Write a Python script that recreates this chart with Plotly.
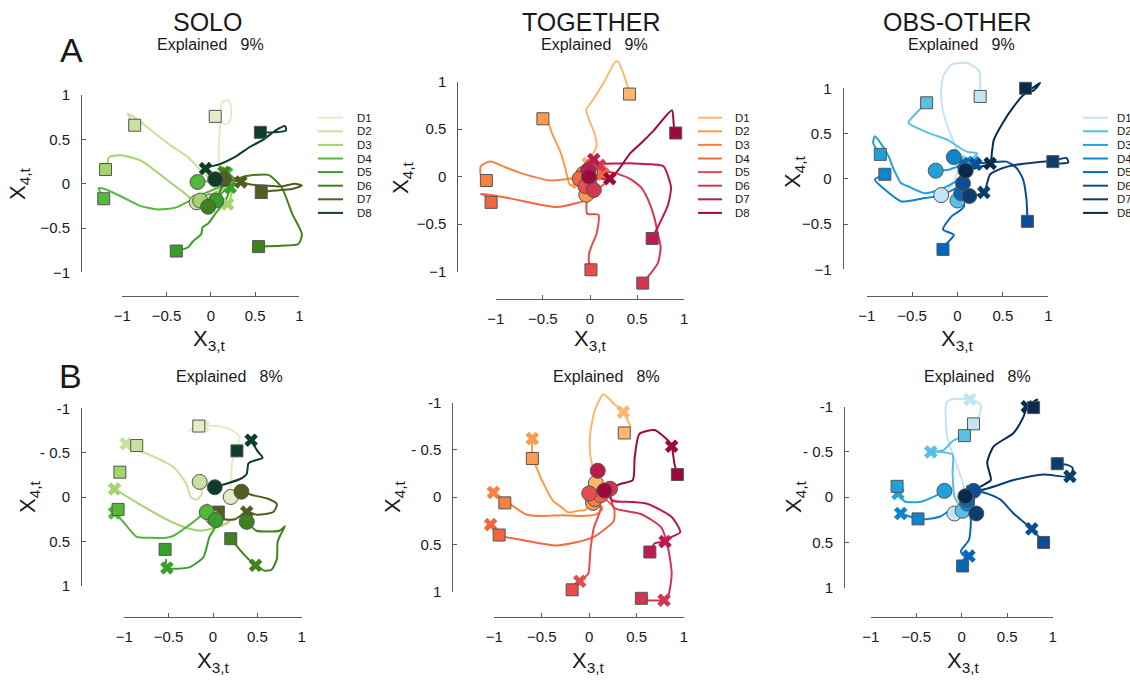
import plotly.graph_objects as go

W, H = 1130, 682
FONT = "Liberation Sans, Arial, sans-serif"

DIRS = ["D1", "D2", "D3", "D4", "D5", "D6", "D7", "D8"]
GREENS = ["#e3edc5", "#c8e1a0", "#a5d36e", "#55b83c", "#37a02a", "#3f821d", "#525d20", "#0e3d29"]
REDS = ["#fdb76b", "#fd9b4c", "#f9803f", "#f3663f", "#e64d4b", "#d43651", "#bd1a4d", "#9c0a3d"]
BLUES = ["#c2e4f3", "#5bbee3", "#1fa2dc", "#0c85cd", "#0866b7", "#0b4d96", "#0b3d6f", "#082b4b"]

TITLES = ["SOLO", "TOGETHER", "OBS-OTHER"]
EXPLAINED = ["9%", "8%"]
TICKS = [-1, -0.5, 0, 0.5, 1]
TICKTEXT_X = ["\u22121", "\u22120.5", "0", "0.5", "1"]
TICKTEXT_YA = ["\u22121", "\u22120.5", "0", "0.5", "1"]
TICKTEXT_YB = ["-1", "- 0.5", "0", "0.5", "1"]

# ---------------- Row A : SOLO ----------------
solo_a_paths = [
    [(0.0, -0.2), (0.04, -0.08), (0.07, 0.05), (0.09, 0.2), (0.09, 0.4), (0.1, 0.6), (0.11, 0.8), (0.13, 0.92), (0.2, 0.94), (0.23, 0.85), (0.22, 0.72), (0.18, 0.67), (0.1, 0.7), (0.05, 0.76)],
    [(-0.16, -0.21), (-0.02, -0.1), (0.1, 0.02), (0.12, 0.08), (0.05, 0.04), (-0.07, 0.11), (-0.26, 0.3), (-0.45, 0.43), (-0.67, 0.6), (-0.85, 0.74), (-0.94, 0.79), (-0.9, 0.72), (-0.86, 0.66)],
    [(-0.12, -0.19), (0.05, -0.22), (0.19, -0.23), (0.23, -0.1), (0.15, -0.05), (0.0, -0.13), (-0.18, -0.19), (-0.33, -0.08), (-0.48, 0.03), (-0.79, 0.26), (-1.02, 0.32), (-1.15, 0.3), (-1.17, 0.22), (-1.19, 0.16)],
    [(-0.15, 0.02), (0.05, 0.04), (0.18, 0.12), (0.2, 0.0), (0.1, -0.04), (-0.1, -0.12), (-0.4, -0.27), (-0.6, -0.29), (-0.8, -0.25), (-1.0, -0.15), (-1.2, -0.06), (-1.27, -0.05), (-1.23, -0.12), (-1.21, -0.17)],
    [(0.06, -0.19), (0.15, -0.08), (0.22, -0.04), (0.16, -0.2), (0.05, -0.34), (-0.03, -0.45), (-0.09, -0.49), (-0.11, -0.57), (-0.2, -0.65), (-0.26, -0.72), (-0.39, -0.76)],
    [(-0.03, -0.26), (0.1, -0.1), (0.15, 0.05), (0.15, 0.13), (0.27, 0.06), (0.42, 0.09), (0.65, 0.1), (0.8, -0.04), (0.92, -0.34), (1.03, -0.57), (0.99, -0.68), (0.8, -0.7), (0.54, -0.71)],
    [(0.15, 0.05), (0.25, 0.04), (0.34, 0.02), (0.45, -0.01), (0.61, -0.02), (0.8, -0.03), (0.95, 0.0), (1.03, -0.02), (0.92, -0.06), (0.69, -0.08), (0.57, -0.1)],
    [(0.05, 0.05), (-0.06, 0.17), (0.1, 0.22), (0.27, 0.3), (0.45, 0.42), (0.6, 0.5), (0.73, 0.6), (0.84, 0.65), (0.85, 0.6), (0.72, 0.58), (0.56, 0.58)],
]
solo_a_start = [(0.0, -0.2), (-0.16, -0.21), (-0.12, -0.19), (-0.15, 0.02), (0.06, -0.19), (-0.03, -0.26), (0.15, 0.05), (0.05, 0.05)]
solo_a_cross = [(0.07, 0.05), (0.12, 0.08), (0.19, -0.23), (0.18, 0.12), (0.22, -0.04), (0.15, 0.13), (0.34, 0.02), (-0.06, 0.17)]
solo_a_end = [(0.05, 0.76), (-0.86, 0.66), (-1.19, 0.16), (-1.21, -0.17), (-0.39, -0.76), (0.54, -0.71), (0.57, -0.1), (0.56, 0.58)]

# ---------------- Row A : TOGETHER ----------------
tog_a_paths = [
    [(0.0, 0.04), (-0.02, 0.14), (0.07, 0.32), (0.05, 0.45), (-0.04, 0.7), (0.04, 0.82), (0.15, 1.0), (0.27, 1.21), (0.3, 1.21), (0.39, 0.98), (0.42, 0.87)],
    [(-0.04, -0.19), (-0.13, -0.06), (-0.21, -0.09), (-0.26, 0.08), (-0.31, 0.25), (-0.4, 0.45), (-0.45, 0.58), (-0.5, 0.61)],
    [(-0.07, 0.03), (0.1, 0.07), (0.15, 0.04), (0.0, 0.02), (-0.2, -0.02), (-0.42, -0.04), (-0.6, 0.0), (-0.74, 0.04), (-0.9, 0.1), (-1.06, 0.16), (-1.16, 0.11), (-1.16, 0.02), (-1.1, -0.04)],
    [(-0.11, -0.02), (0.05, 0.02), (0.14, 0.03), (0.18, -0.05), (0.11, -0.11), (0.05, -0.21), (-0.15, -0.28), (-0.35, -0.32), (-0.55, -0.29), (-0.74, -0.25), (-1.0, -0.2), (-1.16, -0.18), (-1.09, -0.21), (-1.05, -0.27)],
    [(-0.05, -0.1), (0.02, 0.12), (0.0, -0.05), (-0.03, -0.2), (-0.03, -0.39), (0.09, -0.4), (0.07, -0.6), (0.02, -0.72), (-0.01, -0.81), (-0.01, -0.91), (0.01, -0.98)],
    [(0.04, -0.14), (0.1, 0.12), (0.05, 0.07), (0.25, 0.04), (0.42, -0.02), (0.54, -0.11), (0.62, -0.25), (0.68, -0.42), (0.72, -0.6), (0.75, -0.74), (0.72, -0.91), (0.56, -1.12)],
    [(-0.02, 0.07), (0.04, 0.18), (0.07, 0.14), (0.3, 0.14), (0.47, 0.14), (0.65, 0.13), (0.78, 0.11), (0.86, -0.11), (0.84, -0.25), (0.82, -0.32), (0.72, -0.53), (0.66, -0.65)],
    [(-0.01, 0.0), (0.1, -0.02), (0.21, -0.02), (0.3, 0.07), (0.43, 0.25), (0.55, 0.36), (0.68, 0.49), (0.87, 0.7), (0.89, 0.54), (0.91, 0.46)],
]
tog_a_start = [(0.0, 0.04), (-0.04, -0.19), (-0.07, 0.03), (-0.11, -0.02), (-0.05, -0.1), (0.04, -0.14), (-0.02, 0.07), (-0.01, 0.0)]
tog_a_cross = [(-0.02, 0.14), (-0.13, -0.06), (0.1, 0.07), (0.14, 0.03), (0.02, 0.12), (0.1, 0.12), (0.04, 0.18), (0.21, -0.02)]
tog_a_end = [(0.42, 0.87), (-0.5, 0.61), (-1.1, -0.04), (-1.05, -0.27), (0.01, -0.98), (0.56, -1.12), (0.66, -0.65), (0.91, 0.46)]

# ---------------- Row A : OBS-OTHER ----------------
obs_a_paths = [
    [(-0.18, -0.18), (-0.05, -0.05), (0.03, 0.2), (0.0, 0.3), (-0.06, 0.45), (-0.11, 0.58), (-0.17, 0.8), (-0.18, 0.98), (-0.15, 1.15), (-0.07, 1.26), (0.11, 1.28), (0.24, 1.19), (0.25, 1.05), (0.25, 0.91)],
    [(0.0, -0.24), (0.03, 0.0), (0.1, 0.18), (0.22, 0.28), (0.1, 0.3), (-0.11, 0.43), (-0.3, 0.5), (-0.54, 0.62), (-0.45, 0.73), (-0.34, 0.84)],
    [(-0.24, 0.09), (-0.1, 0.1), (0.07, 0.15), (0.02, 0.0), (-0.15, -0.1), (-0.36, -0.16), (-0.55, -0.08), (-0.62, -0.05), (-0.7, 0.1), (-0.76, 0.25), (-0.85, 0.4), (-0.91, 0.47), (-0.93, 0.4), (-0.85, 0.27)],
    [(-0.04, 0.24), (0.1, 0.2), (0.18, 0.18), (0.1, 0.0), (0.04, -0.07), (-0.18, -0.18), (-0.4, -0.22), (-0.62, -0.25), (-0.8, -0.12), (-0.91, -0.01), (-0.8, 0.05)],
    [(0.04, -0.16), (0.06, 0.17), (0.05, -0.1), (0.07, -0.31), (-0.07, -0.42), (-0.16, -0.56), (-0.04, -0.62), (-0.14, -0.74), (-0.16, -0.78)],
    [(0.06, -0.05), (0.2, 0.16), (0.35, 0.18), (0.54, 0.19), (0.65, 0.12), (0.72, 0.0), (0.76, -0.23), (0.77, -0.47)],
    [(0.13, -0.19), (0.29, -0.15), (0.36, 0.05), (0.5, 0.12), (0.62, 0.15), (0.85, 0.18), (1.05, 0.2), (1.2, 0.23), (1.22, 0.18), (1.12, 0.17), (1.05, 0.19)],
    [(0.09, 0.09), (0.2, 0.12), (0.36, 0.17), (0.38, 0.3), (0.4, 0.43), (0.5, 0.62), (0.62, 0.8), (0.72, 0.92), (0.91, 1.06), (0.83, 0.97), (0.75, 1.0)],
]
obs_a_start = [(-0.18, -0.18), (0.0, -0.24), (-0.24, 0.09), (-0.04, 0.24), (0.04, -0.16), (0.06, -0.05), (0.13, -0.19), (0.09, 0.09)]
obs_a_cross = [(0.03, 0.2), (0.1, 0.18), (0.07, 0.15), (0.18, 0.18), (0.06, 0.17), (0.2, 0.16), (0.29, -0.15), (0.36, 0.17)]
obs_a_end = [(0.25, 0.91), (-0.34, 0.84), (-0.85, 0.27), (-0.8, 0.05), (-0.16, -0.78), (0.77, -0.47), (1.05, 0.19), (0.75, 1.0)]

# ---------------- Row B : SOLO (y axis reversed) ----------------
solo_b_paths = [
    [(0.2, 0.0), (0.2, -0.2), (0.22, -0.4), (0.28, -0.6), (0.3, -0.68), (0.2, -0.76), (0.05, -0.8), (-0.1, -0.8), (-0.2, -0.78), (-0.28, -0.74)],
    [(-0.15, -0.17), (-0.12, -0.05), (-0.18, 0.03), (-0.25, 0.0), (-0.3, -0.15), (-0.45, -0.34), (-0.68, -0.46), (-0.85, -0.53), (-0.98, -0.6)],
    [(0.0, 0.23), (0.15, 0.25), (0.19, 0.27), (0.08, 0.33), (-0.15, 0.38), (-0.35, 0.33), (-0.53, 0.25), (-0.83, 0.08), (-1.11, -0.09)],
    [(-0.07, 0.17), (-0.06, 0.08), (-0.15, 0.22), (-0.3, 0.34), (-0.45, 0.44), (-0.53, 0.46), (-0.7, 0.46), (-0.86, 0.45), (-1.02, 0.27), (-1.11, 0.18)],
    [(0.03, 0.26), (0.02, 0.35), (-0.04, 0.45), (-0.08, 0.6), (-0.11, 0.68), (-0.26, 0.79), (-0.52, 0.8), (-0.53, 0.7)],
    [(0.38, 0.28), (0.49, 0.38), (0.62, 0.39), (0.75, 0.38), (0.81, 0.33), (0.79, 0.37), (0.73, 0.5), (0.72, 0.7), (0.66, 0.82), (0.58, 0.83), (0.48, 0.77), (0.35, 0.65), (0.2, 0.47)],
    [(0.32, -0.06), (0.45, -0.02), (0.62, 0.02), (0.72, 0.08), (0.68, 0.17), (0.5, 0.2), (0.38, 0.17), (0.25, 0.25), (0.12, 0.25), (0.06, 0.17)],
    [(0.02, -0.11), (0.15, -0.15), (0.3, -0.2), (0.38, -0.26), (0.4, -0.38), (0.5, -0.42), (0.56, -0.44), (0.5, -0.52), (0.43, -0.64)],
]
solo_b_start = [(0.2, 0.0), (-0.15, -0.17), (0.0, 0.23), (-0.07, 0.17), (0.03, 0.26), (0.38, 0.28), (0.32, -0.06), (0.02, -0.11)]
solo_b_cross = [(-0.11, -0.8), (-0.98, -0.6), (-1.11, -0.09), (-1.11, 0.18), (-0.52, 0.8), (0.48, 0.77), (0.38, 0.17), (0.43, -0.64)]
solo_b_end = [(-0.16, -0.8), (-0.86, -0.58), (-1.05, -0.28), (-1.07, 0.14), (-0.54, 0.59), (0.2, 0.47), (0.06, 0.17), (0.27, -0.52)]

# ---------------- Row B : TOGETHER ----------------
tog_b_paths = [
    [(0.07, -0.15), (0.04, -0.3), (0.01, -0.45), (0.01, -0.67), (0.06, -0.92), (0.15, -1.09), (0.26, -0.99), (0.36, -0.9), (0.44, -0.74)],
    [(0.04, 0.06), (-0.05, 0.14), (-0.1, 0.14), (-0.22, 0.16), (-0.3, 0.1), (-0.38, 0.04), (-0.47, -0.12), (-0.53, -0.25), (-0.6, -0.46), (-0.6, -0.62)],
    [(0.06, 0.02), (0.14, 0.12), (0.08, 0.18), (-0.1, 0.2), (-0.28, 0.19), (-0.5, 0.2), (-0.67, 0.18), (-0.88, 0.04), (-1.01, -0.05)],
    [(0.12, -0.02), (0.26, 0.11), (0.26, 0.25), (0.15, 0.35), (0.05, 0.42), (-0.15, 0.48), (-0.35, 0.51), (-0.67, 0.46), (-0.95, 0.4), (-1.04, 0.29)],
    [(0.0, -0.04), (0.12, 0.11), (0.05, 0.32), (0.02, 0.5), (0.01, 0.6), (0.0, 0.75), (-0.01, 0.81), (-0.1, 0.89)],
    [(0.22, -0.09), (0.26, 0.11), (0.55, 0.18), (0.76, 0.32), (0.83, 0.53), (0.87, 0.81), (0.83, 1.06), (0.79, 1.09), (0.62, 1.09), (0.55, 1.07)],
    [(0.09, -0.28), (0.15, -0.07), (0.26, 0.04), (0.45, 0.05), (0.61, 0.07), (0.87, 0.21), (0.96, 0.37), (0.87, 0.42), (0.8, 0.47), (0.69, 0.49), (0.64, 0.58)],
    [(0.16, -0.07), (0.33, -0.14), (0.46, -0.18), (0.48, -0.42), (0.53, -0.67), (0.69, -0.71), (0.83, -0.6), (0.87, -0.54), (0.9, -0.35), (0.93, -0.24)],
]
tog_b_start = [(0.07, -0.15), (0.04, 0.06), (0.06, 0.02), (0.12, -0.02), (0.0, -0.04), (0.22, -0.09), (0.09, -0.28), (0.16, -0.07)]
tog_b_cross = [(0.36, -0.9), (-0.6, -0.62), (-1.01, -0.05), (-1.04, 0.29), (-0.1, 0.89), (0.79, 1.09), (0.8, 0.47), (0.87, -0.54)]
tog_b_end = [(0.37, -0.68), (-0.6, -0.41), (-0.89, 0.06), (-0.95, 0.4), (-0.18, 0.98), (0.55, 1.07), (0.64, 0.58), (0.93, -0.24)]

# ---------------- Row B : OBS-OTHER ----------------
obs_b_paths = [
    [(-0.08, 0.18), (0.03, -0.08), (-0.05, -0.34), (-0.16, -0.67), (-0.17, -1.04), (-0.12, -1.08), (0.09, -1.08), (0.21, -1.02), (0.19, -0.89), (0.13, -0.81)],
    [(0.01, 0.15), (-0.08, -0.01), (-0.1, -0.27), (-0.1, -0.47), (-0.22, -0.5), (-0.34, -0.5), (-0.2, -0.52), (-0.1, -0.62), (0.03, -0.68)],
    [(-0.19, -0.07), (-0.3, -0.01), (-0.45, 0.05), (-0.62, 0.05), (-0.7, -0.04)],
    [(0.06, 0.07), (-0.12, 0.14), (-0.23, 0.21), (-0.37, 0.24), (-0.48, 0.24), (-0.67, 0.18)],
    [(0.06, 0.03), (0.1, 0.25), (0.08, 0.47), (-0.01, 0.6), (0.03, 0.65), (0.08, 0.65)],
    [(0.13, -0.07), (0.28, -0.04), (0.43, 0.03), (0.57, 0.18), (0.77, 0.35), (0.9, 0.5)],
    [(0.16, 0.18), (0.06, -0.12), (0.21, -0.08), (0.57, -0.19), (0.9, -0.25), (1.19, -0.23), (1.22, -0.32), (1.15, -0.36), (1.05, -0.37)],
    [(0.04, -0.01), (0.21, -0.12), (0.32, -0.19), (0.28, -0.38), (0.35, -0.56), (0.57, -0.71), (0.68, -0.89), (0.72, -1.0), (0.83, -1.08), (0.79, -0.99)],
]
obs_b_start = [(-0.08, 0.18), (0.01, 0.15), (-0.19, -0.07), (0.06, 0.07), (0.06, 0.03), (0.13, -0.07), (0.16, 0.18), (0.04, -0.01)]
obs_b_cross = [(0.09, -1.08), (-0.34, -0.5), (-0.7, -0.04), (-0.67, 0.18), (0.08, 0.65), (0.77, 0.35), (1.19, -0.23), (0.72, -1.0)]
obs_b_end = [(0.13, -0.81), (0.03, -0.68), (-0.71, -0.12), (-0.48, 0.24), (0.01, 0.76), (0.9, 0.5), (1.05, -0.37), (0.79, -0.99)]

# ---------------- layout geometry (pixels) ----------------
# each panel: data, colours, row, col, x0, sx, y0, sy, x-axis line y, y-axis line x
panels = [
    (solo_a_paths, solo_a_start, solo_a_cross, solo_a_end, GREENS, 0, 0, 210.8, 88.5, 183.7, 88.6, 295.7, 81.0),
    (tog_a_paths, tog_a_start, tog_a_cross, tog_a_end, REDS, 0, 1, 590.0, 94.2, 176.7, 95.0, 299.0, 457.3),
    (obs_a_paths, obs_a_start, obs_a_cross, obs_a_end, BLUES, 0, 2, 957.5, 90.8, 178.8, 90.5, 296.0, 842.7),
    (solo_b_paths, solo_b_start, solo_b_cross, solo_b_end, GREENS, 1, 0, 213.0, 88.7, 497.0, 88.7, 616.7, 81.0),
    (tog_b_paths, tog_b_start, tog_b_cross, tog_b_end, REDS, 1, 1, 589.2, 94.8, 497.2, 94.5, 616.7, 452.3),
    (obs_b_paths, obs_b_start, obs_b_cross, obs_b_end, BLUES, 1, 2, 961.7, 91.0, 497.2, 90.5, 617.3, 844.0),
]
COL_BOX = [(88, 316), (468, 697), (852, 1082)]
ROW_BOX = [(55, 293), (382, 612)]

AXIS_COLOR = "#5a5a5a"
TEXT_COLOR = "#1a1a1a"
EDGE = "#555555"

fig = go.Figure()
layout = {}


def px2fx(px):
    return px / W


def py2fy(py):
    return 1 - py / H


for i, (paths, start, cross, end, cols, row, col, x0, sx, y0, sy, xline_y, yline_x) in enumerate(panels):
    dn = i + 1          # data axes
    an = i + 7          # display axes
    L, R = COL_BOX[col]
    T, B = ROW_BOX[row]
    xr = [(L - x0) / sx, (R - x0) / sx]
    if row == 0:
        yr = [(y0 - B) / sy, (y0 - T) / sy]
    else:
        yr = [(B - y0) / sy, (T - y0) / sy]
    layout[f"xaxis{dn}"] = dict(domain=[px2fx(L), px2fx(R)], range=xr, visible=False,
                                anchor=f"y{dn}", fixedrange=True)
    layout[f"yaxis{dn}"] = dict(domain=[py2fy(B), py2fy(T)], range=yr, visible=False,
                                anchor=f"x{dn}", fixedrange=True)
    ytext = TICKTEXT_YA if row == 0 else TICKTEXT_YB
    layout[f"xaxis{an}"] = dict(
        domain=[px2fx(x0 - sx), px2fx(x0 + sx)], range=[-1, 1], anchor="free",
        position=py2fy(xline_y), side="bottom", showline=True, linecolor=AXIS_COLOR, linewidth=1,
        ticks="inside", ticklen=4, tickcolor=AXIS_COLOR, tickvals=TICKS, ticktext=TICKTEXT_X,
        showgrid=False, zeroline=False, tickfont=dict(family=FONT, size=15, color=TEXT_COLOR),
        ticklabelstandoff=6, fixedrange=True)
    layout[f"yaxis{an}"] = dict(
        domain=[py2fy(y0 + sy), py2fy(y0 - sy)], range=[-1, 1] if row == 0 else [1, -1],
        anchor="free", position=px2fx(yline_x), side="left", showline=True, linecolor=AXIS_COLOR,
        linewidth=1, ticks="inside", ticklen=4, tickcolor=AXIS_COLOR, tickvals=TICKS, ticktext=ytext,
        showgrid=False, zeroline=False, tickfont=dict(family=FONT, size=15, color=TEXT_COLOR),
        ticklabelstandoff=8, fixedrange=True)
    fig.add_trace(go.Scatter(x=[None], y=[None], xaxis=f"x{an}", yaxis=f"y{an}",
                             showlegend=False, hoverinfo="skip", mode="markers"))

    for d in range(8):
        fig.add_trace(go.Scatter(
            x=[p[0] for p in paths[d]], y=[p[1] for p in paths[d]],
            mode="lines", line=dict(color=cols[d], width=2, shape="spline", smoothing=0.6),
            xaxis=f"x{dn}", yaxis=f"y{dn}", showlegend=False, name=DIRS[d]))
    fig.add_trace(go.Scatter(
        x=[p[0] for p in cross], y=[p[1] for p in cross], mode="markers",
        marker=dict(symbol="x", size=12, color=cols, line=dict(width=0)),
        xaxis=f"x{dn}", yaxis=f"y{dn}", showlegend=False, cliponaxis=False, text=DIRS))
    fig.add_trace(go.Scatter(
        x=[p[0] for p in end], y=[p[1] for p in end], mode="markers",
        marker=dict(symbol="square", size=12, color=cols, line=dict(width=1, color=EDGE)),
        xaxis=f"x{dn}", yaxis=f"y{dn}", showlegend=False, cliponaxis=False, text=DIRS))
    fig.add_trace(go.Scatter(
        x=[p[0] for p in start], y=[p[1] for p in start], mode="markers",
        marker=dict(symbol="circle", size=15, color=cols, line=dict(width=1, color=EDGE)),
        xaxis=f"x{dn}", yaxis=f"y{dn}", showlegend=False, cliponaxis=False, text=DIRS))

annotations = []
shapes = []


def ann(text, px, py, size, **kw):
    d = dict(text=text, x=px2fx(px), y=py2fy(py), xref="paper", yref="paper",
             showarrow=False, xanchor="center", yanchor="middle",
             font=dict(family=FONT, size=size, color=TEXT_COLOR))
    d.update(kw)
    annotations.append(d)


ann(TITLES[0], 207, 22, 25)
ann(TITLES[1], 591, 22, 25)
ann(TITLES[2], 957, 22, 25)
for cx in (210, 594, 962):
    ann("Explained   " + EXPLAINED[0], cx, 45, 16)
for cx in (229, 606, 977):
    ann("Explained   " + EXPLAINED[1], cx, 377, 16)
ann("A", 71, 50, 34)
ann("B", 70, 376, 34)

for cx in (209, 590, 957):
    ann("X<sub>3,t</sub>", cx, 340, 22)
for cx in (213, 588, 963):
    ann("X<sub>3,t</sub>", cx, 662, 22)
for cx, cy in ((19, 184), (402, 178), (794, 172), (29, 497), (394, 497), (795, 497)):
    ann("X<sub>4,t</sub>", cx, cy, 22, textangle=-90)

LEG = [((318, 343, 355), GREENS), ((698, 722, 733), REDS), ((1083, 1108, 1115), BLUES)]
for (lx0, lx1, tx), cols in LEG:
    for d in range(8):
        yy = 117.7 + 13.6 * d
        shapes.append(dict(type="line", xref="paper", yref="paper",
                           x0=px2fx(lx0), x1=px2fx(lx1), y0=py2fy(yy), y1=py2fy(yy),
                           line=dict(color=cols[d], width=2)))
        ann(DIRS[d], tx, yy, 11.5, xanchor="left")

fig.update_layout(
    width=W, height=H, margin=dict(l=0, r=0, t=0, b=0, autoexpand=False),
    paper_bgcolor="white", plot_bgcolor="rgba(0,0,0,0)",
    showlegend=False, annotations=annotations, shapes=shapes,
    font=dict(family=FONT, color=TEXT_COLOR), hovermode=False,
    **layout)

fig.write_html("out.html", config={"displayModeBar": False, "staticPlot": True},
               post_script="document.body.style.margin='0px';document.body.style.overflow='hidden';")
